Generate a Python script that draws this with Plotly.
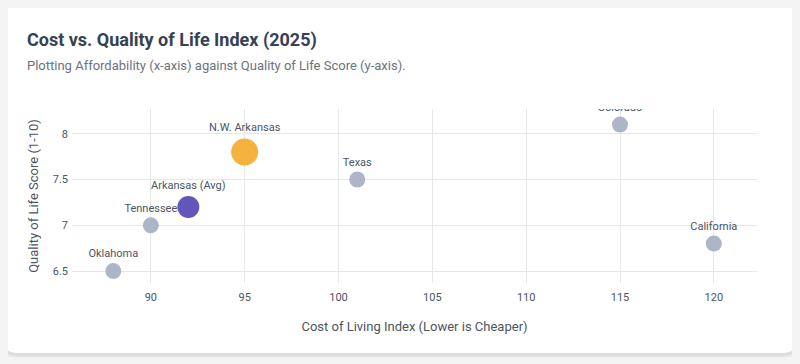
import plotly.graph_objects as go

regions = ["Oklahoma", "Tennessee", "Arkansas (Avg)", "N.W. Arkansas", "Texas", "Colorado", "California"]
cost_index = [88, 90, 92, 95, 101, 115, 120]
quality_score = [6.5, 7.0, 7.2, 7.8, 7.5, 8.1, 6.8]
marker_sizes = [16, 16, 22, 27, 16, 16, 16]
marker_colors = ["#a9b2c3", "#a9b2c3", "#5a4db6", "#f6ae35", "#a9b2c3", "#a9b2c3", "#a9b2c3"]

x_ticks = [90, 95, 100, 105, 110, 115, 120]
y_ticks = [6.5, 7, 7.5, 8]

# page body offsets the figure by 8px; work in reference pixel coordinates
O = 8
W, H = 800 - O, 364 - O
L, R, T, B = 72 - O, 43, 109 - O, 81
PW, PH = W - L - R, H - T - B
BG = "#f4f4f5"


def px(x):
    return (x - O - L) / PW


def py(y):
    return (H - B - (y - O)) / PH


def rounded_rect(x0, y0, x1, y1, r):
    pts = [
        f"M {px(x0 + r)} {py(y0)}",
        f"L {px(x1 - r)} {py(y0)}",
        f"Q {px(x1)} {py(y0)} {px(x1)} {py(y0 + r)}",
        f"L {px(x1)} {py(y1 - r)}",
        f"Q {px(x1)} {py(y1)} {px(x1 - r)} {py(y1)}",
        f"L {px(x0 + r)} {py(y1)}",
        f"Q {px(x0)} {py(y1)} {px(x0)} {py(y1 - r)}",
        f"L {px(x0)} {py(y0 + r)}",
        f"Q {px(x0)} {py(y0)} {px(x0 + r)} {py(y0)}",
        "Z",
    ]
    return " ".join(pts)


shapes = []
for i, a in enumerate([0.025, 0.03, 0.035]):
    d = 3 - i
    shapes.append(dict(type="path", xref="paper", yref="paper", layer="below",
                       path=rounded_rect(4 - d, 3 - d + 2, 796 + d, 353 + d + 2, 12 + d),
                       fillcolor=f"rgba(0,0,0,{a})", line=dict(width=0)))
shapes.append(dict(type="path", xref="paper", yref="paper", layer="below",
                   path=rounded_rect(4, 3, 796, 353, 12),
                   fillcolor="white", line=dict(width=0)))

fig = go.Figure()
fig.add_trace(go.Scatter(
    x=cost_index, y=quality_score, mode="markers+text",
    text=regions, textposition="top center",
    textfont=dict(family="Roboto, sans-serif", size=11, color="#4b5563"),
    marker=dict(size=marker_sizes, color=marker_colors, opacity=0.95, line=dict(width=0)),
    hoverinfo="text", showlegend=False,
))

fig.update_layout(
    width=W, height=H,
    margin=dict(l=L, r=R, t=T, b=B),
    paper_bgcolor=BG,
    plot_bgcolor="rgba(0,0,0,0)",
    font=dict(family="Roboto, sans-serif", color="#4b5563"),
    shapes=shapes,
    annotations=[
        dict(text="<b>Cost vs. Quality of Life Index (2025)</b>", xref="paper", yref="paper",
             x=px(25), y=py(40), xanchor="left", yanchor="middle", showarrow=False,
             font=dict(family="Roboto, sans-serif", size=18, color="#374151")),
        dict(text="Plotting Affordability (x-axis) against Quality of Life Score (y-axis).",
             xref="paper", yref="paper", x=px(25), y=py(66), xanchor="left", yanchor="middle",
             showarrow=False, font=dict(family="Roboto, sans-serif", size=13, color="#6b7280")),
    ],
    xaxis=dict(
        range=[85.8, 122.3], tickvals=x_ticks, ticktext=[str(v) for v in x_ticks],
        showgrid=True, gridcolor="#e5e7eb", zeroline=False, showline=False,
        tickfont=dict(size=11, color="#4b5563"), ticklabelstandoff=6,
        title=dict(text="Cost of Living Index (Lower is Cheaper)", font=dict(size=13, color="#4b5563"), standoff=18),
    ),
    yaxis=dict(
        range=[6.37, 8.27], tickvals=y_ticks, ticktext=["6.5", "7", "7.5", "8"],
        showgrid=True, gridcolor="#e5e7eb", zeroline=False, showline=False,
        tickfont=dict(size=11, color="#4b5563"), ticklabelstandoff=3,
        title=dict(text="Quality of Life Score (1-10)", font=dict(size=13, color="#4b5563"), standoff=11),
    ),
)

fig.write_html("out.html", post_script=f"document.body.style.background='{BG}';")
